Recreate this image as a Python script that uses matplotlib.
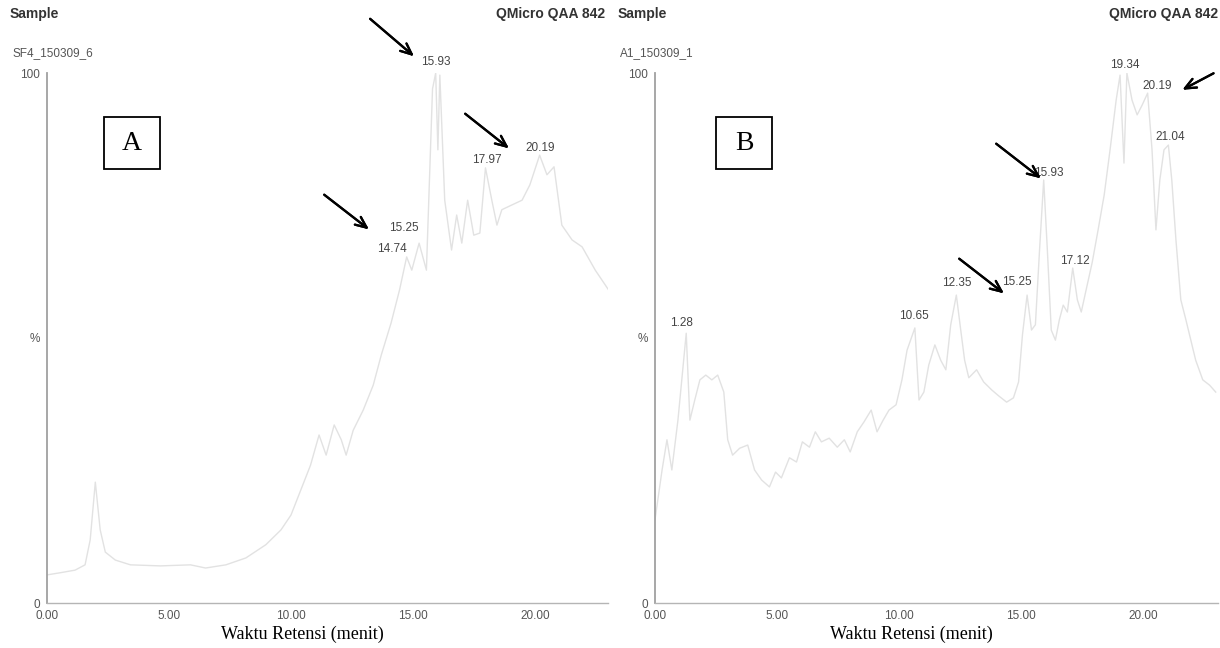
import matplotlib
matplotlib.use("Agg")
import matplotlib.pyplot as plt
from matplotlib.patches import Rectangle

# Kromatogram A (SF4_150309_6)
waktu_a = [0.0, 0.53, 1.15, 1.56, 1.77, 1.98, 2.18, 2.39, 2.8, 3.42,
           4.65, 5.88, 6.5, 7.33, 8.15, 8.97, 9.59, 10.0, 10.4, 10.8,
           11.15, 11.44, 11.77, 12.06, 12.26, 12.55, 12.96, 13.37, 13.7, 14.1,
           14.45, 14.74, 14.95, 15.25, 15.55, 15.8, 15.93, 16.02, 16.1, 16.3,
           16.58, 16.79, 17.0, 17.24, 17.49, 17.74, 17.97, 18.23, 18.44, 18.64,
           19.05, 19.47, 19.79, 20.19, 20.49, 20.78, 21.1, 21.52, 21.93, 22.47,
           23.1]
intens_a = [5.3, 5.7, 6.2, 7.2, 11.9, 22.8, 13.8, 9.6, 8.1, 7.2,
            7.0, 7.2, 6.6, 7.2, 8.5, 11.0, 13.8, 16.6, 21.3, 26.0,
            31.7, 27.9, 33.6, 30.8, 27.9, 32.6, 36.4, 41.1, 46.8, 52.8,
            59.1, 65.3, 62.8, 67.9, 62.8, 97, 100, 85.5, 99.6, 76,
            66.6, 73.2, 67.9, 76, 69.4, 69.8, 82.1, 76, 71.3, 74.2,
            75.1, 76, 78.9, 84.5, 80.8, 82.3, 71.3, 68.5, 67.2, 62.8,
            58.5]

# Kromatogram B (A1_150309_1)
waktu_b = [0.0, 0.29, 0.49, 0.69, 0.94, 1.28, 1.43, 1.63, 1.84, 2.08,
           2.33, 2.57, 2.82, 2.98, 3.18, 3.47, 3.8, 4.08, 4.37, 4.69,
           4.94, 5.18, 5.51, 5.8, 6.04, 6.33, 6.57, 6.82, 7.14, 7.47,
           7.76, 8.0, 8.29, 8.57, 8.86, 9.1, 9.35, 9.59, 9.88, 10.12,
           10.33, 10.65, 10.82, 11.02, 11.22, 11.47, 11.71, 11.92, 12.12, 12.35,
           12.53, 12.69, 12.86, 13.18, 13.47, 13.8, 14.08, 14.41, 14.69, 14.9,
           15.06, 15.25, 15.43, 15.59, 15.76, 15.93, 16.08, 16.24, 16.41, 16.57,
           16.73, 16.9, 17.12, 17.31, 17.47, 17.67, 17.92, 18.16, 18.41, 18.65,
           18.9, 19.06, 19.22, 19.34, 19.55, 19.76, 19.96, 20.19, 20.37, 20.53,
           20.69, 20.86, 21.04, 21.18, 21.35, 21.55, 21.76, 21.96, 22.16, 22.45,
           22.73, 22.98]
intens_b = [15.7, 25.1, 30.8, 25.1, 34.5, 50.9, 34.5, 38.3, 42.1, 43.0,
            42.1, 43.0, 39.8, 30.8, 27.9, 29.2, 29.8, 25.1, 23.2, 21.9,
            24.7, 23.6, 27.4, 26.6, 30.4, 29.4, 32.3, 30.4, 31.1, 29.4,
            30.8, 28.5, 32.3, 34.2, 36.4, 32.3, 34.5, 36.4, 37.4, 42.1,
            47.7, 51.9, 38.3, 39.8, 44.9, 48.7, 45.8, 44.0, 52.5, 58.1,
            51.5, 45.8, 42.5, 44.0, 41.7, 40.2, 39.1, 37.9, 38.7, 41.7,
            50.6, 58.1, 51.5, 52.5, 66.6, 79.8, 66.6, 51.5, 49.6, 53.4,
            56.2, 54.9, 63.2, 57.2, 54.9, 59.1, 64.3, 70.4, 77.0, 85.5,
            94.9, 99.6, 83.0, 100, 94.9, 92.1, 93.9, 96.2, 85.5, 70.4,
            79.8, 85.5, 86.4, 79.8, 68.5, 57.2, 53.4, 49.6, 45.8, 42.1,
            41.1, 39.8]

# label puncak: (teks, waktu, intensitas posisi label)
label_a = [("15.93", 15.93, 102.0), ("15.25", 14.61, 70.8), ("14.74", 14.12, 66.8),
           ("17.97", 18.02, 83.6), ("20.19", 20.2, 85.8)]
label_b = [("19.34", 19.27, 101.5), ("20.19", 20.6, 97.5), ("21.04", 21.1, 87.9),
           ("15.93", 16.12, 81.1), ("17.12", 17.22, 64.5), ("15.25", 14.82, 60.6),
           ("12.35", 12.37, 60.4), ("10.65", 10.61, 54.2), ("1.28", 1.1, 52.8)]

tick_x = [0, 5, 10, 15, 20]
tick_x_lbl = ["0.00", "5.00", "10.00", "15.00", "20.00"]

W, H = 1220, 648
fig = plt.figure(figsize=(W / 100, H / 100), dpi=100)
sans = "Liberation Sans"
serif = "Liberation Serif"


def fx(px):
    return px / W


def fy(py):
    return 1 - py / H


panels = [
    (47, 608, waktu_a, intens_a, label_a, "SF4_150309_6", "A", 0),
    (655, 1218, waktu_b, intens_b, label_b, "A1_150309_1", "B", 608),
]

for left, right, t, y, labels, nama, huruf, off in panels:
    ax = fig.add_axes([fx(left), fy(603), fx(right - left), (603 - 73) / H])
    ax.plot(t, y, color="#e2e2e2", lw=1.0)
    ax.set_xlim(0, (right - left) / 24.4)
    ax.set_ylim(0, 100)
    for s in ["top", "right"]:
        ax.spines[s].set_visible(False)
    ax.spines["left"].set_color("#a0a0a0")
    ax.spines["left"].set_linewidth(1.3)
    ax.spines["bottom"].set_color("#b5b5b5")
    ax.spines["bottom"].set_linewidth(1.0)
    ax.set_xticks(tick_x)
    ax.set_xticklabels(tick_x_lbl)
    ax.set_yticks([0, 50, 100])
    ax.set_yticklabels(["0", "%", "100"])
    ax.tick_params(length=0, labelsize=8.5, labelcolor="#555555", pad=5)
    for lb in ax.get_xticklabels() + ax.get_yticklabels():
        lb.set_family(sans)
    for teks, tx, ty in labels:
        ax.text(tx, ty, teks, fontsize=8.5, color="#444444", family=sans,
                ha="center", va="center", clip_on=False)

    fig.text(fx(off + 10), fy(14), "Sample", fontsize=10, fontweight="bold",
             color="#333333", family=sans, va="center")
    fig.text(fx(off + 605 if off == 0 else 1218), fy(14), "QMicro QAA 842",
             fontsize=10, fontweight="bold", color="#333333", family=sans,
             va="center", ha="right")
    fig.text(fx(off + 12), fy(53), nama, fontsize=8.5, color="#555555",
             family=sans, va="center")
    fig.text(fx((left + right) / 2 - 25), fy(634), "Waktu Retensi (menit)",
             fontsize=13, family=serif, ha="center", va="center")

    # kotak huruf panel
    bx = 104 if huruf == "A" else 716
    fig.add_artist(Rectangle((fx(bx), fy(169)), fx(56), 52 / H,
                             transform=fig.transFigure, fill=False,
                             ec="black", lw=1.3))
    fig.text(fx(bx + 28), fy(143), huruf, fontsize=20, family=serif,
             ha="center", va="center")

# panah penunjuk
panah = [((368, 17), (416, 58)), ((322, 193), (371, 231)), ((463, 112), (511, 150)),
         ((994, 142), (1043, 180)), ((957, 257), (1006, 295)), ((1216, 72), (1180, 91))]
for (x0, y0), (x1, y1) in panah:
    fig.add_artist(plt.annotate("", xy=(fx(x1), fy(y1)), xytext=(fx(x0), fy(y0)),
                                xycoords="figure fraction", textcoords="figure fraction",
                                arrowprops=dict(arrowstyle="->,head_length=0.8,head_width=0.35",
                                                color="black", lw=1.6)))

fig.savefig("out.png", dpi=100)
